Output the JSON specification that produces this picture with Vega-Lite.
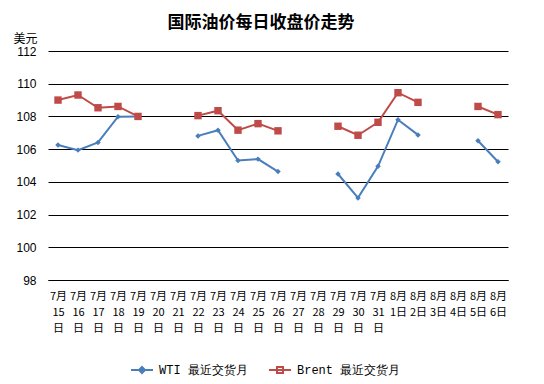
{
  "$schema": "https://vega.github.io/schema/vega-lite/v6.json",
  "width": 460,
  "height": 229,
  "autosize": "none",
  "padding": {"left": 48, "top": 51, "right": 36, "bottom": 104},
  "background": "white",
  "title": {
    "text": "国际油价每日收盘价走势",
    "font": "Noto Sans CJK SC",
    "fontSize": 17,
    "fontWeight": "bold",
    "color": "#000000",
    "anchor": "middle",
    "dx": -17,
    "baseline": "top",
    "offset": 0
  },
  "data": {
    "values": [
      {"d": "7月|15|日", "s": "WTI 最近交货月", "v": 106.25},
      {"d": "7月|16|日", "s": "WTI 最近交货月", "v": 105.94},
      {"d": "7月|17|日", "s": "WTI 最近交货月", "v": 106.41},
      {"d": "7月|18|日", "s": "WTI 最近交货月", "v": 107.98},
      {"d": "7月|19|日", "s": "WTI 最近交货月", "v": 108.0},
      {"d": "7月|20|日", "s": "WTI 最近交货月", "v": null},
      {"d": "7月|21|日", "s": "WTI 最近交货月", "v": null},
      {"d": "7月|22|日", "s": "WTI 最近交货月", "v": 106.81},
      {"d": "7月|23|日", "s": "WTI 最近交货月", "v": 107.16},
      {"d": "7月|24|日", "s": "WTI 最近交货月", "v": 105.31},
      {"d": "7月|25|日", "s": "WTI 最近交货月", "v": 105.39},
      {"d": "7月|26|日", "s": "WTI 最近交货月", "v": 104.63},
      {"d": "7月|27|日", "s": "WTI 最近交货月", "v": null},
      {"d": "7月|28|日", "s": "WTI 最近交货月", "v": null},
      {"d": "7月|29|日", "s": "WTI 最近交货月", "v": 104.48},
      {"d": "7月|30|日", "s": "WTI 最近交货月", "v": 103.02},
      {"d": "7月|31|日", "s": "WTI 最近交货月", "v": 104.95},
      {"d": "8月|1日", "s": "WTI 最近交货月", "v": 107.8},
      {"d": "8月|2日", "s": "WTI 最近交货月", "v": 106.87},
      {"d": "8月|3日", "s": "WTI 最近交货月", "v": null},
      {"d": "8月|4日", "s": "WTI 最近交货月", "v": null},
      {"d": "8月|5日", "s": "WTI 最近交货月", "v": 106.51},
      {"d": "8月|6日", "s": "WTI 最近交货月", "v": 105.23},
      {"d": "7月|15|日", "s": "Brent 最近交货月", "v": 109.0},
      {"d": "7月|16|日", "s": "Brent 最近交货月", "v": 109.31},
      {"d": "7月|17|日", "s": "Brent 最近交货月", "v": 108.53},
      {"d": "7月|18|日", "s": "Brent 最近交货月", "v": 108.61},
      {"d": "7月|19|日", "s": "Brent 最近交货月", "v": 108.0},
      {"d": "7月|20|日", "s": "Brent 最近交货月", "v": null},
      {"d": "7月|21|日", "s": "Brent 最近交货月", "v": null},
      {"d": "7月|22|日", "s": "Brent 最近交货月", "v": 108.05},
      {"d": "7月|23|日", "s": "Brent 最近交货月", "v": 108.35},
      {"d": "7月|24|日", "s": "Brent 最近交货月", "v": 107.16},
      {"d": "7月|25|日", "s": "Brent 最近交货月", "v": 107.56},
      {"d": "7月|26|日", "s": "Brent 最近交货月", "v": 107.12},
      {"d": "7月|27|日", "s": "Brent 最近交货月", "v": null},
      {"d": "7月|28|日", "s": "Brent 最近交货月", "v": null},
      {"d": "7月|29|日", "s": "Brent 最近交货月", "v": 107.4},
      {"d": "7月|30|日", "s": "Brent 最近交货月", "v": 106.85},
      {"d": "7月|31|日", "s": "Brent 最近交货月", "v": 107.64},
      {"d": "8月|1日", "s": "Brent 最近交货月", "v": 109.45},
      {"d": "8月|2日", "s": "Brent 最近交货月", "v": 108.86},
      {"d": "8月|3日", "s": "Brent 最近交货月", "v": null},
      {"d": "8月|4日", "s": "Brent 最近交货月", "v": null},
      {"d": "8月|5日", "s": "Brent 最近交货月", "v": 108.61},
      {"d": "8月|6日", "s": "Brent 最近交货月", "v": 108.11}
    ]
  },
  "encoding": {
    "x": {
      "field": "d",
      "type": "ordinal",
      "scale": {
        "type": "point",
        "padding": 0.5,
        "domain": ["7月|15|日","7月|16|日","7月|17|日","7月|18|日","7月|19|日","7月|20|日","7月|21|日","7月|22|日","7月|23|日","7月|24|日","7月|25|日","7月|26|日","7月|27|日","7月|28|日","7月|29|日","7月|30|日","7月|31|日","8月|1日","8月|2日","8月|3日","8月|4日","8月|5日","8月|6日"]
      },
      "axis": {
        "title": null,
        "labelAngle": 0,
        "labelExpr": "split(datum.value, '|')",
        "labelFont": "Noto Sans CJK SC",
        "labelFontSize": 11,
        "labelLineHeight": 16,
        "labelPadding": 10,
        "labelBaseline": "top",
        "ticks": false,
        "domain": true,
        "domainColor": "#000000",
        "domainWidth": 1,
        "grid": false
      }
    },
    "y": {
      "field": "v",
      "type": "quantitative",
      "scale": {"domain": [98, 112], "nice": false, "zero": false},
      "axis": {
        "values": [98, 100, 102, 104, 106, 108, 110, 112],
        "title": "美元",
        "titleAngle": 0,
        "titleAlign": "left",
        "titleBaseline": "alphabetic",
        "titleX": -35,
        "titleY": -9,
        "titleFont": "Noto Sans CJK SC",
        "titleFontSize": 12,
        "titleFontWeight": "normal",
        "titleColor": "#000000",
        "labelFontSize": 12,
        "labelPadding": 12,
        "ticks": false,
        "domain": false,
        "grid": true,
        "gridColor": "#000000",
        "gridWidth": 1,
        "gridOpacity": 1
      }
    }
  },
  "layer": [
    {
      "mark": {"type": "line", "strokeWidth": 2},
      "encoding": {
        "color": {"field": "s", "type": "nominal", "scale": {"domain": ["WTI 最近交货月", "Brent 最近交货月"], "range": ["#4A7EBB", "#BE4B48"]}, "legend": null}
      }
    },
    {
      "mark": {"type": "point", "filled": true, "opacity": 1},
      "encoding": {
        "color": {"field": "s", "type": "nominal", "legend": null},
        "shape": {"field": "s", "type": "nominal", "scale": {"domain": ["WTI 最近交货月", "Brent 最近交货月"], "range": ["diamond", "square"]}, "legend": null},
        "size": {"field": "s", "type": "nominal", "scale": {"domain": ["WTI 最近交货月", "Brent 最近交货月"], "range": [30, 55]}, "legend": null}
      }
    },
    {
      "transform": [{"filter": "datum.v > 1000"}],
      "mark": {"type": "point", "filled": false, "opacity": 1, "strokeWidth": 2, "size": 400},
      "encoding": {
        "shape": {
          "field": "s",
          "type": "nominal",
          "scale": {"domain": ["WTI 最近交货月"], "range": ["M-1.1,0H1.1M0,-0.3L0.3,0L0,0.3L-0.3,0Z"]},
          "legend": {"title": null, "legendX": 83, "symbolStrokeColor": "#4A7EBB", "symbolFillColor": "#4A7EBB"}
        }
      }
    },
    {
      "transform": [{"filter": "datum.v > 1000"}],
      "mark": {"type": "point", "filled": false, "opacity": 1, "strokeWidth": 2, "size": 400},
      "encoding": {
        "shape": {
          "field": "s",
          "type": "nominal",
          "scale": {"domain": ["Brent 最近交货月"], "range": ["M-1.1,0H1.1M-0.3,-0.3H0.3V0.3H-0.3Z"]},
          "legend": {"title": null, "legendX": 221, "symbolStrokeColor": "#BE4B48", "symbolFillColor": "#BE4B48"}
        }
      }
    }
  ],
  "resolve": {"scale": {"shape": "independent"}, "legend": {"shape": "independent"}},
  "config": {
    "view": {"stroke": null},
    "axis": {"labelFont": "Liberation Sans", "labelColor": "#000000"},
    "legend": {
      "orient": "none",
      "direction": "horizontal",
      "legendY": 308,
      "labelFont": "Liberation Mono",
      "labelFontSize": 12,
      "labelColor": "#000000",
      "symbolSize": 400,
      "symbolStrokeWidth": 2,
      "symbolOpacity": 1,
      "labelOffset": 6
    }
  }
}
